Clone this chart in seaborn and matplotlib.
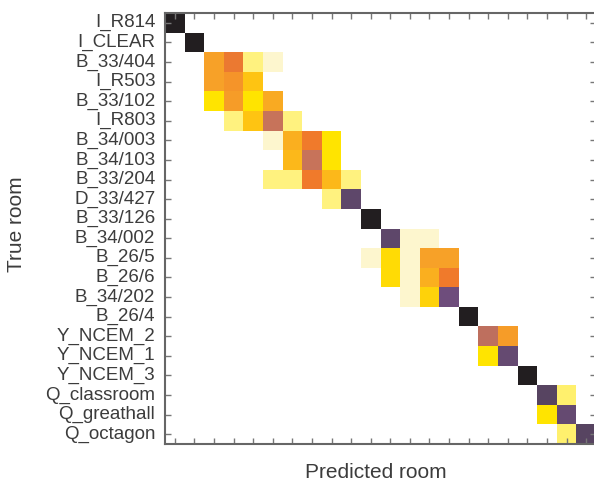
import numpy as np
import pandas as pd
import seaborn as sns
import matplotlib
matplotlib.use("Agg")
import matplotlib.pyplot as plt
from matplotlib.colors import LinearSegmentedColormap

rooms = ["I_R814", "I_CLEAR", "B_33/404", "I_R503", "B_33/102", "I_R803",
         "B_34/003", "B_34/103", "B_33/204", "D_33/427", "B_33/126", "B_34/002",
         "B_26/5", "B_26/6", "B_34/202", "B_26/4", "Y_NCEM_2", "Y_NCEM_1",
         "Y_NCEM_3", "Q_classroom", "Q_greathall", "Q_octagon"]

# non-zero cells of the confusion matrix, per true room: (predicted index, fraction)
rows = [
    [(0, 1.0)],
    [(1, 1.0)],
    [(2, .35), (3, .45), (4, .12), (5, .05)],
    [(2, .35), (3, .38), (4, .27)],
    [(2, .20), (3, .36), (4, .20), (5, .33)],
    [(3, .12), (4, .27), (5, .52), (6, .12)],
    [(5, .05), (6, .32), (7, .44), (8, .20)],
    [(6, .30), (7, .52), (8, .20)],
    [(5, .12), (6, .12), (7, .44), (8, .30), (9, .12)],
    [(8, .12), (9, .82)],
    [(10, 1.0)],
    [(11, .82), (12, .05), (13, .05)],
    [(10, .05), (11, .22), (12, .05), (13, .35), (14, .35)],
    [(11, .22), (12, .05), (13, .32), (14, .44)],
    [(12, .05), (13, .24), (14, .72)],
    [(15, 1.0)],
    [(16, .54), (17, .36)],
    [(16, .20), (17, .78)],
    [(18, 1.0)],
    [(19, .86), (20, .13)],
    [(19, .20), (20, .78)],
    [(20, .13), (21, .86)],
]

mat = np.zeros((len(rooms), len(rooms)))
for i, r in enumerate(rows):
    for j, v in r:
        mat[i, j] = v
df = pd.DataFrame(mat, index=rooms, columns=rooms)

# pale yellow -> orange -> brown -> purple -> near black
cmap = LinearSegmentedColormap.from_list("conf", [
    (0.0, "#fffbea"), (0.05, "#fdf6cc"), (0.12, "#fff27c"), (0.2, "#ffe400"),
    (0.27, "#fec412"), (0.35, "#f7a128"), (0.44, "#f07a2b"), (0.52, "#c8735a"),
    (0.72, "#6e4d7c"), (0.86, "#584562"), (1.0, "#221e20")])

plt.rcParams["font.family"] = ["Liberation Sans", "DejaVu Sans"]
fig = plt.figure(figsize=(5.94, 4.83), dpi=100)
ax = fig.add_axes([165 / 594, 1 - 444 / 483, 431 / 594, 431 / 483])
sns.heatmap(df, mask=(df == 0), cmap=cmap, vmin=0, vmax=1, cbar=False,
            linewidths=0, ax=ax)

for s in ax.spines.values():
    s.set_visible(True)
    s.set_color("#666666")
    s.set_linewidth(1.5)

n = len(rooms)
ax.set_xticks(np.arange(n) + 0.5)
ax.set_xticklabels([])
ax.set_yticks(np.arange(n) + 0.5)
ax.set_yticklabels(rooms, fontsize=13.5, color="#3c3c3c")
ax.tick_params(direction="in", top=True, right=True, length=4, width=1,
               color="#777777", pad=7)
ax.tick_params(axis="y", labelrotation=0)

ax.set_xlabel("Predicted room", fontsize=15, color="#3c3c3c")
ax.set_ylabel("True room", fontsize=15, color="#3c3c3c")
ax.xaxis.set_label_coords(0.49, -0.045)
ax.yaxis.set_label_coords(-0.322, 0.51)

plt.savefig("out.png", dpi=100)
